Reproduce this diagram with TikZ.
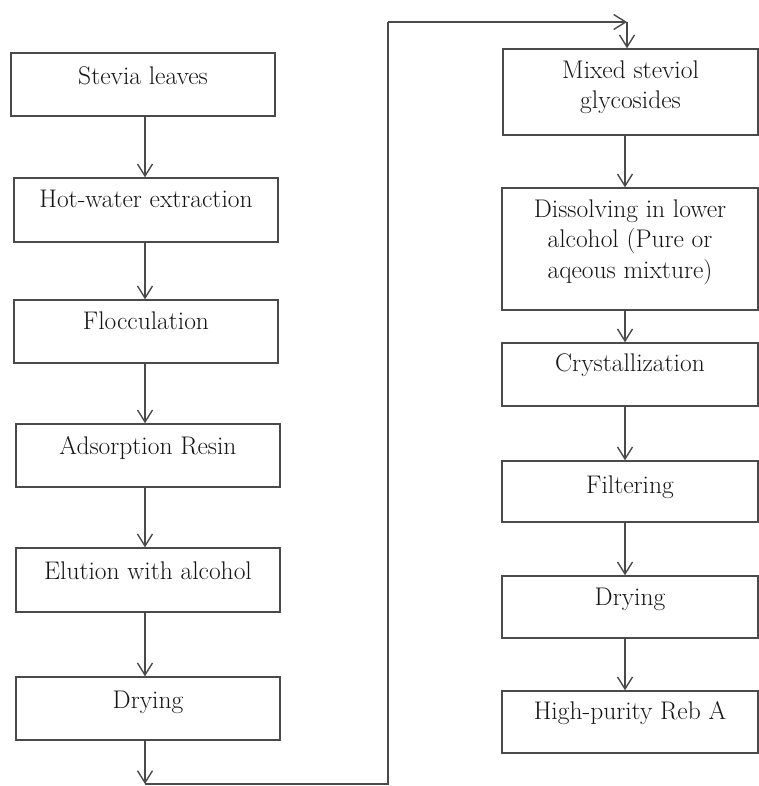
\documentclass[tikz,border=0pt]{standalone}
\usetikzlibrary{arrows.meta}
\definecolor{linegray}{HTML}{4A4A4A}
\definecolor{textcol}{HTML}{151515}
\begin{document}
\begin{tikzpicture}[x=1pt,y=-1pt,
  box/.style={draw=linegray, line width=1.4pt, rectangle, inner sep=0pt},
  lbl/.style={anchor=north, inner sep=0pt, align=center, font=\rmfamily\fontsize{25.5}{30.5}\selectfont, text=textcol},
  flow/.style={draw=linegray, line width=1.4pt, -{Straight Barb[length=12pt,width=15pt,line width=1.4pt]}},
  link/.style={draw=linegray, line width=1.4pt}]
\useasboundingbox (0,0) rectangle (759,786);
% left column
\node[box, minimum width=264pt, minimum height=63pt] (b1) at (143,84.5) {};
\node[box, minimum width=264pt, minimum height=64pt] (b2) at (146,210) {};
\node[box, minimum width=264pt, minimum height=63pt] (b3) at (146,331.5) {};
\node[box, minimum width=264pt, minimum height=63pt] (b4) at (148,455.5) {};
\node[box, minimum width=264pt, minimum height=64pt] (b5) at (148,580) {};
\node[box, minimum width=264pt, minimum height=63pt] (b6) at (148,708.5) {};
% right column
\node[box, minimum width=255pt, minimum height=86pt] (r1) at (630.5,92) {};
\node[box, minimum width=256pt, minimum height=122pt] (r2) at (630,249) {};
\node[box, minimum width=256pt, minimum height=63pt] (r3) at (630,374.5) {};
\node[box, minimum width=256pt, minimum height=61pt] (r4) at (630,491.5) {};
\node[box, minimum width=256pt, minimum height=62pt] (r5) at (630,607) {};
\node[box, minimum width=256pt, minimum height=62pt] (r6) at (630,722) {};
% labels
\node[lbl] (t1) at ([yshift=-14pt]b1.north) {Stevia leaves};
\node[lbl] (t2) at ([yshift=-13pt]b2.north) {Hot-water extraction};
\node[lbl] (t3) at ([yshift=-12pt]b3.north) {Flocculation};
\node[lbl] (t4) at ([yshift=-13pt]b4.north) {Adsorption Resin};
\node[lbl] (t5) at ([yshift=-14pt]b5.north) {Elution with alcohol};
\node[lbl] (t6) at ([yshift=-15pt]b6.north) {Drying};
\node[lbl] (u1) at ([yshift=-12pt]r1.north) {Mixed steviol\\glycosides};
\node[lbl] (u2) at ([yshift=-12pt]r2.north) {Dissolving in lower\\alcohol (Pure or\\aqeous mixture)};
\node[lbl] (u3) at ([yshift=-11pt]r3.north) {Crystallization};
\node[lbl] (u4) at ([yshift=-15pt]r4.north) {Filtering};
\node[lbl] (u5) at ([yshift=-13pt]r5.north) {Drying};
\node[lbl] (u6) at ([yshift=-11pt]r6.north) {High-purity Reb A};
% arrow columns
\coordinate (lx) at (145,0);
\coordinate (rx) at (625,0);
\draw[flow] (b1.south -| lx) -- (b2.north -| lx);
\draw[flow] (b2.south -| lx) -- (b3.north -| lx);
\draw[flow] (b3.south -| lx) -- (b4.north -| lx);
\draw[flow] (b4.south -| lx) -- (b5.north -| lx);
\draw[flow] (b5.south -| lx) -- (b6.north -| lx);
\draw[flow] (r1.south -| rx) -- (r2.north -| rx);
\draw[flow] (r2.south -| rx) -- (r3.north -| rx);
\draw[flow] (r3.south -| rx) -- (r4.north -| rx);
\draw[flow] (r4.south -| rx) -- (r5.north -| rx);
\draw[flow] (r5.south -| rx) -- (r6.north -| rx);
% loop connector
\coordinate (c1) at (145,784);
\coordinate (c2) at (388,784);
\coordinate (c3) at (388,22);
\coordinate (c4) at (627,22);
\draw[flow] (b6.south -| lx) -- (c1);
\draw[link] (c1) -- (c2) -- (c3);
\draw[flow] (c3) -- (c4);
\draw[flow] (c4) -- (r1.north -| c4);
\end{tikzpicture}
\end{document}
